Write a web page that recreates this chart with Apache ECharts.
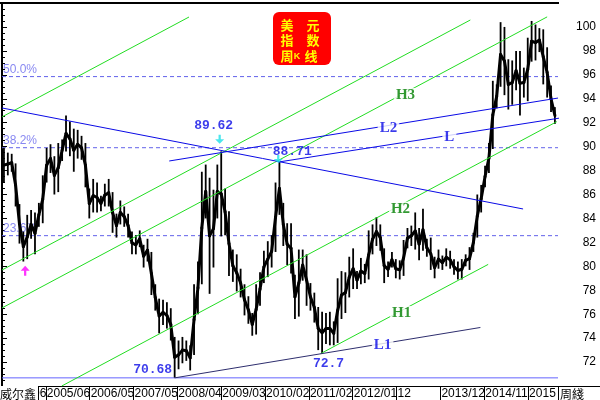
<!DOCTYPE html>
<html><head><meta charset="utf-8">
<script src="https://cdn.jsdelivr.net/npm/echarts@6/dist/echarts.min.js"></script>
<style>html,body{margin:0;padding:0;background:#fff}#c{width:600px;height:400px}</style>
</head><body><div id="c"></div>
<script>
// month index 0 = 2004/07 ... 142 = 2016/05 (weekly chart, shown as monthly ranges)
const tickLabels = ['2004/06','2005/06','2006/05','2007/05','2008/04','2009/03','2010/02','2011/02','2012/01','12','2013/12','2014/11','2015'];
const monthLow = [
 87.0,87.6,87.9,85.0,81.9,80.4,
 80.6,82.3,81.0,83.3,83.6,87.0,87.8,86.0,86.2,88.8,89.6,89.2,
 87.9,89.0,88.9,86.6,84.0,84.5,84.5,84.6,85.0,85.0,82.8,82.4,
 83.5,83.3,82.4,81.0,81.0,81.6,79.9,80.4,77.6,76.3,74.4,75.1,
 74.8,73.8,70.7,71.4,71.9,72.1,71.3,72.6,76.0,78.5,84.0,77.7,
 79.9,84.0,82.5,82.6,79.2,78.7,77.9,77.4,75.9,75.2,74.2,74.3,
 76.7,78.6,79.1,79.9,81.2,84.3,81.7,80.1,79.4,75.6,75.8,78.8,
 76.7,76.3,75.3,73.0,72.7,73.5,73.4,73.4,73.6,75.6,76.1,77.4,
 78.1,78.1,78.5,78.6,78.9,81.0,81.7,81.3,78.6,79.1,79.9,79.0,
 78.9,79.2,81.5,81.7,81.4,80.5,81.3,80.8,79.7,79.0,79.8,79.7,
 80.0,79.8,79.3,78.9,78.9,80.0,79.7,81.2,82.4,84.5,86.6,87.8,
 89.8,93.2,95.0,94.3,93.1,93.5,94.7,92.6,94.1,93.8,97.1,97.2,
 97.9,95.2,94.1,92.9,91.9];
const monthHigh = [
 89.9,89.5,89.4,88.6,85.2,82.9,
 84.3,84.7,84.5,85.3,87.6,89.9,90.2,89.2,90.3,90.6,92.6,92.1,
 91.5,91.4,90.9,90.3,86.5,87.3,87.0,85.9,86.9,87.3,86.2,84.4,
 85.5,85.0,84.4,82.9,82.6,83.0,81.8,82.3,81.2,78.5,77.3,77.2,
 77.0,76.5,74.1,73.8,74.1,73.8,73.4,78.5,80.4,87.9,88.5,87.4,
 86.4,88.5,89.6,86.5,84.6,81.4,81.0,79.8,78.5,77.5,76.1,78.5,
 79.5,81.3,82.1,82.6,87.0,88.7,85.3,83.6,83.6,79.3,81.4,81.4,
 81.0,78.6,77.8,76.6,76.2,76.1,76.2,75.4,79.0,79.6,79.5,80.8,
 81.5,79.6,80.7,80.2,83.0,83.5,84.1,83.5,81.5,80.4,81.2,80.6,
 80.5,82.2,83.2,83.4,84.5,83.2,84.8,82.3,82.4,80.8,81.4,80.9,
 81.5,81.3,80.6,80.4,80.6,81.0,81.6,82.8,86.0,86.8,88.4,90.3,
 95.5,95.2,100.4,100.0,97.3,97.2,98.0,98.0,96.6,99.1,100.5,100.2,
 99.9,99.8,98.3,95.1,93.3];
const fibHigh = 121.02, fibLow = 70.68;
const fibRatios = [0.236, 0.382, 0.5];
const fibNames = ['23.6%', '38.2%', '50.0%'];
// trend lines [month, value]
const lineDown = [[0, 93.23], [134.3, 84.79]];
const lineL2 = [[43.1, 88.80], [143.3, 94.06]];
const lineL = [[71.2, 88.71], [145.6, 92.48]];
const lineL1 = [[44.5, 70.68], [123.3, 74.89]];
const chanTop = [[0, 92.48], [48.2, 100.83]];
const chanA = [[0, 79.69], [120.7, 100.58]];
const chanH3 = [[0, 76.52], [140.5, 100.84]];
const chanH2 = [[15.4, 70.0], [143.0, 92.09]];
const chanH1 = [[82.1, 72.7], [125.3, 80.16]];
// pivots [month, value, text]
const pivotMonths = [5.97, 56.1, 71.2, 44.5, 82.1];
const pivotValues = [80.39, 89.62, 88.71, 70.68, 72.7];
const pivotTexts = ['', '89.62', '88.71', '70.68', '72.7'];

const xStep = 11.3, xMax = 143.3;
function lineAt(l, m) { const [a, b] = l; return a[1] + (b[1] - a[1]) * (m - a[0]) / (b[0] - a[0]); }

const chart = echarts.init(document.getElementById('c'));
const series = [];
// fib levels
series.push({type:'line', data:[[0, fibLow],[xMax, fibLow]], symbol:'none', silent:true, z:1,
  lineStyle:{color:'#6464ff', width:1}});
fibRatios.forEach((r, i) => {
  const v = fibLow + r * (fibHigh - fibLow);
  series.push({type:'line', data:[[0, v],[xMax, v]], symbol:'none', silent:true, z:1,
    lineStyle:{color:'#6262ea', width:1, type:[4,3]}});
  series.push({type:'scatter', data:[[0, v]], symbolSize:0, silent:true, z:1,
    label:{show:true, formatter:fibNames[i], position:[1,-13], color:'#6a6aee', fontSize:12, fontFamily:'Liberation Sans'}});
});
// price: a range stroke per month plus a stroke joining the month mid-points
const nMonths = monthLow.length;
series.push({type:'custom', z:3, silent:true,
  data: monthLow.map((lo, i) => [i, lo, monthHigh[i]]),
  encode:{x:0, y:[1,2]},
  renderItem:(params, api) => {
    const i = params.dataIndexInside;
    const m = api.value(0), lo = api.value(1), hi = api.value(2);
    const a = api.coord([m + 0.5, hi]), b = api.coord([m + 0.5, lo]);
    const mid = api.coord([m + 0.5, (hi + lo) / 2]);
    const children = [{type:'line', shape:{x1:a[0], y1:a[1], x2:b[0], y2:b[1]}, style:{stroke:'#000', lineWidth:1.8}}];
    if (i + 1 < nMonths) {
      const hi2 = api.value(2, i + 1), lo2 = api.value(1, i + 1);
      const mid2 = api.coord([m + 1.5, (hi2 + lo2) / 2]);
      children.push({type:'line', shape:{x1:mid[0], y1:mid[1], x2:mid2[0], y2:mid2[1]}, style:{stroke:'#000', lineWidth:3, lineCap:'round'}});
    }
    return {type:'group', children};
  }});
const addLine = (d, color, z) => series.push({type:'line', data:d, symbol:'none', silent:true, z:z||5, clip:false,
  lineStyle:{color, width:1}});
[chanTop, chanA, chanH3, chanH2, chanH1].forEach(l => addLine(l, '#22dd22'));
[lineDown, lineL2, lineL].forEach(l => addLine(l, '#0a0ae6'));
addLine(lineL1, '#2e2e6e');
// line labels
const lineLabels = [
  [chanH3, 104.0, 'H3', '#008000', 3], [chanH2, 102.7, 'H2', '#008000', 4], [chanH1, 103.0, 'H1', '#008000', 3],
  [lineL2, 99.6, 'L2', '#0a0ae6', 3], [lineL, 115.3, 'L', '#0a0ae6', 2], [lineL1, 98.1, 'L1', '#0a0ae6', 2]];
lineLabels.forEach(([l, m, t, c, dy]) => series.push({type:'scatter', data:[[m, lineAt(l, m)]], symbolSize:0, silent:true, z:8,
  label:{show:true, formatter:t, position:'inside', offset:[0, dy], color:c, fontSize:15, fontWeight:'bold',
    fontFamily:'Liberation Serif', backgroundColor:'#fff', padding:[0,2,0,2]}}));
// pivot texts
const textOffsets = [[0,0], [-6,-25], [14,-10], [-22,-8], [8,10]];
pivotTexts.forEach((t, i) => { if (!t) return;
  series.push({type:'scatter', data:[[pivotMonths[i], pivotValues[i]]], symbolSize:0, silent:true, z:8,
    label:{show:true, formatter:t, position:'inside', offset:textOffsets[i], color:'#0a0ae6', fontSize:13, fontWeight:'bold', fontFamily:'Liberation Mono'}});
});
// arrows
const downArrow = 'path://M3,0 L5,0 L5,4 L8,4 L4,8 L0,4 L3,4 Z';
const upArrow = 'path://M4,0 L8,4 L5,4 L5,8 L3,8 L3,4 L0,4 Z';
series.push({type:'scatter', silent:true, z:8, symbol:upArrow, symbolSize:[9,10], symbolOffset:[0,9], itemStyle:{color:'#ff00ff'},
  data:[[pivotMonths[0], pivotValues[0]]]});
series.push({type:'scatter', silent:true, z:8, symbol:downArrow, symbolSize:[9,9], symbolOffset:[0,-12], itemStyle:{color:'#1ee0e8'},
  data:[[pivotMonths[1], pivotValues[1]]]});
series.push({type:'scatter', silent:true, z:8, symbol:downArrow, symbolSize:[9,8], symbolOffset:[0,-3], itemStyle:{color:'#1ee0e8'},
  data:[[pivotMonths[2], pivotValues[2]]]});

chart.setOption({
  animation:false,
  backgroundColor:'#fff',
  grid:{left:0, right:42, top:3, bottom:14, containLabel:false},
  xAxis:{type:'value', min:0, max:xMax, interval:xStep,
    axisLine:{show:true, lineStyle:{color:'#000', width:1}},
    axisTick:{show:true, length:14, lineStyle:{color:'#000'}},
    splitLine:{show:false},
    axisLabel:{formatter:v => tickLabels[Math.round(v / xStep)] && Math.abs(v - Math.round(v/xStep)*xStep) < 0.01 ? tickLabels[Math.round(v / xStep)] : '',
      align:'left', margin:2, padding:[0,0,0,1], fontSize:12, color:'#000', fontFamily:'Liberation Sans'}},
  yAxis:{type:'value', position:'right', min:70, max:102, interval:2,
    axisLine:{show:true, lineStyle:{color:'#000', width:2}},
    axisTick:{show:true, length:5, lineStyle:{color:'#000'}},
    minorTick:{show:true, splitNumber:4, length:3, lineStyle:{color:'#000'}},
    splitLine:{show:false},
    axisLabel:{formatter:v => (v >= 72 && v <= 100) ? String(v) : '', align:'right', margin:38, fontSize:12, color:'#000', fontFamily:'Liberation Sans'}},
  series,
  graphic:[
    {type:'line', shape:{x1:0, y1:3, x2:559, y2:3}, style:{stroke:'#000', lineWidth:2}, z:100},
    {type:'line', shape:{x1:558, y1:386.5, x2:600, y2:386.5}, style:{stroke:'#000', lineWidth:1}, z:100},
    {type:'rect', shape:{x:0, y:386, width:38, height:14}, style:{fill:'#fff'}, z:100},
    {type:'line', shape:{x1:38.5, y1:386, x2:38.5, y2:400}, style:{stroke:'#000', lineWidth:1}, z:101},
    {type:'text', x:0, y:388, style:{text:'威尔鑫', font:'12px "Noto Sans CJK SC"', fill:'#000'}, z:101},
    {type:'text', x:560, y:388, style:{text:'周綫', font:'12px "Noto Sans CJK SC"', fill:'#000'}, z:101},
    {type:'rect', shape:{x:273, y:12, width:58, height:53, r:6}, style:{fill:'#ff0000'}, z:100},
    {type:'text', x:287, y:25, style:{text:'美', font:'bold 13px "Noto Sans CJK SC"', fill:'#ffff00', align:'center', verticalAlign:'middle'}, z:101},
    {type:'text', x:313, y:25, style:{text:'元', font:'bold 13px "Noto Sans CJK SC"', fill:'#ffff00', align:'center', verticalAlign:'middle'}, z:101},
    {type:'text', x:287, y:40.5, style:{text:'指', font:'bold 13px "Noto Sans CJK SC"', fill:'#ffff00', align:'center', verticalAlign:'middle'}, z:101},
    {type:'text', x:313, y:40.5, style:{text:'数', font:'bold 13px "Noto Sans CJK SC"', fill:'#ffff00', align:'center', verticalAlign:'middle'}, z:101},
    {type:'text', x:287, y:56, style:{text:'周', font:'bold 13px "Noto Sans CJK SC"', fill:'#ffff00', align:'center', verticalAlign:'middle'}, z:101},
    {type:'text', x:297, y:57, style:{text:'K', font:'bold 9px "Liberation Sans"', fill:'#ffff00', align:'center', verticalAlign:'middle'}, z:101},
    {type:'text', x:311, y:56, style:{text:'线', font:'bold 13px "Noto Sans CJK SC"', fill:'#ffff00', align:'center', verticalAlign:'middle'}, z:101}
  ]
});
</script></body></html>
